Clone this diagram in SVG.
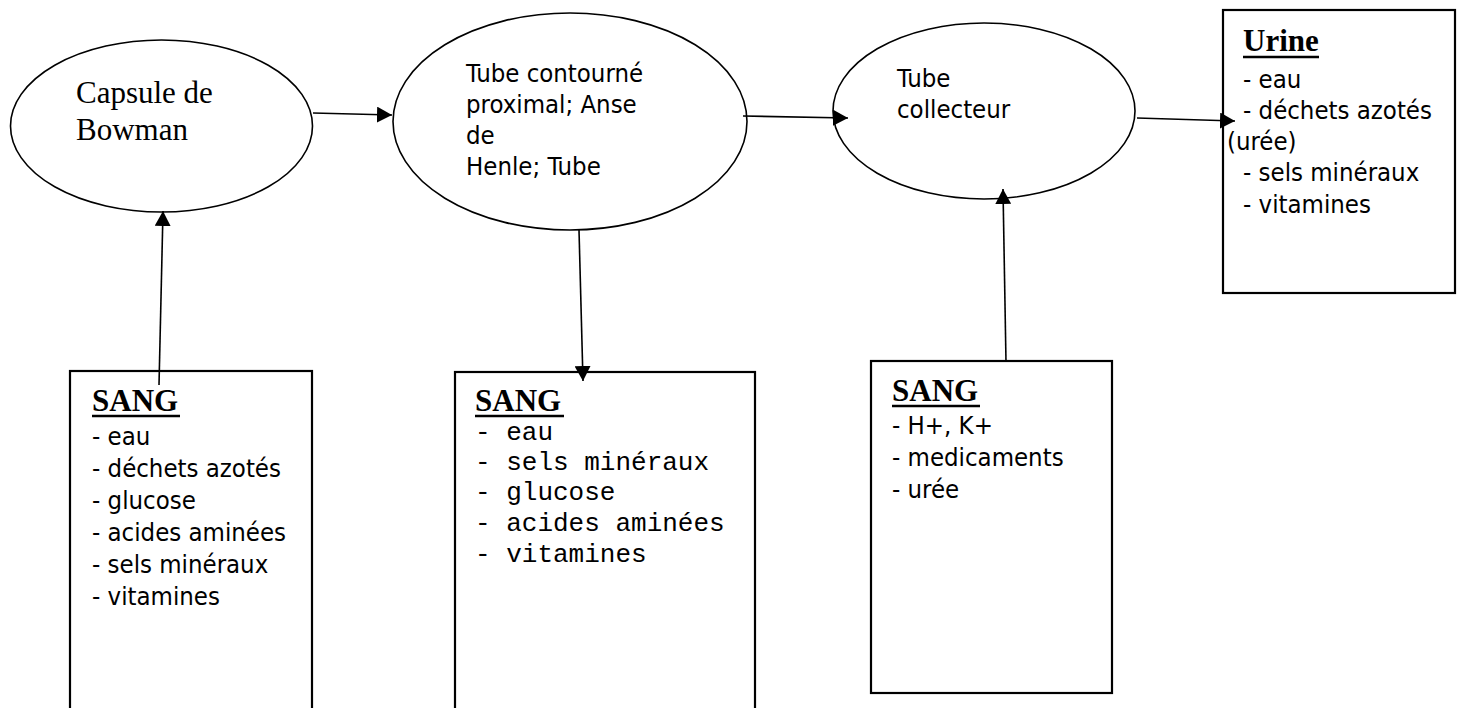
<svg xmlns="http://www.w3.org/2000/svg" width="1457" height="708" viewBox="0 0 1457 708">
  <style>
    .shape { fill: #ffffff; stroke: #000000; stroke-width: 1.6; }
    .box { fill: #ffffff; stroke: #000000; stroke-width: 2.2; }
    .wire { fill: none; stroke: #000000; stroke-width: 1.6; }
    .serif { font-family: "Liberation Serif", "Times New Roman", serif; font-size: 31px; fill: #000; }
    .head { font-family: "Liberation Serif", "Times New Roman", serif; font-size: 31px; font-weight: bold; fill: #000; }
    .sans { font-family: "DejaVu Sans Condensed", "DejaVu Sans", sans-serif; font-stretch: condensed; font-size: 25.5px; fill: #000; }
    .mono { font-family: "Liberation Mono", "Courier New", monospace; font-size: 26px; fill: #000; }
    .uline { stroke: #000; stroke-width: 2.5; }
  </style>
  <defs>
    <marker id="arrow" markerWidth="15" markerHeight="16" refX="15" refY="8" orient="auto" markerUnits="userSpaceOnUse">
      <path d="M0,0 L15,8 L0,16 Z" fill="#000"/>
    </marker>
  </defs>

  <rect width="1457" height="708" fill="#ffffff"/>

  <!-- Stage 1: Bowman's capsule -->
  <g id="capsule">
    <ellipse class="shape" cx="161.5" cy="126" rx="151" ry="86"/>
    <text class="serif" x="76" y="103">Capsule de</text>
    <text class="serif" x="76" y="140">Bowman</text>
  </g>

  <!-- Stage 2: tubules and loop of Henle -->
  <g id="tubules">
    <ellipse class="shape" cx="570" cy="121.5" rx="177" ry="108.5"/>
    <text class="sans" x="466" y="82">Tube contourné</text>
    <text class="sans" x="466" y="113">proximal; Anse</text>
    <text class="sans" x="466" y="144">de</text>
    <text class="sans" x="466" y="175">Henle; Tube</text>
  </g>

  <!-- Stage 3: collecting duct -->
  <g id="collecteur">
    <ellipse class="shape" cx="984" cy="111" rx="151" ry="88"/>
    <text class="sans" x="897" y="87">Tube</text>
    <text class="sans" x="897" y="118">collecteur</text>
  </g>

  <!-- Final product -->
  <g id="urine">
    <rect class="box" x="1223" y="10" width="232" height="283"/>
    <text class="head" x="1243" y="51">Urine</text>
    <line class="uline" x1="1243" y1="57" x2="1319" y2="57"/>
    <text class="sans" x="1243" y="88">- eau</text>
    <text class="sans" x="1243" y="119">- déchets azotés</text>
    <text class="sans" x="1227" y="150">(urée)</text>
    <text class="sans" x="1243" y="181">- sels minéraux</text>
    <text class="sans" x="1243" y="213">- vitamines</text>
  </g>

  <!-- Blood: filtered -->
  <g id="sang-filtration">
    <rect class="box" x="70" y="371" width="242" height="345"/>
    <text class="head" x="92" y="411">SANG</text>
    <line class="uline" x1="92" y1="416" x2="180" y2="416"/>
    <text class="sans" x="92" y="445">- eau</text>
    <text class="sans" x="92" y="477">- déchets azotés</text>
    <text class="sans" x="92" y="509">- glucose</text>
    <text class="sans" x="92" y="541">- acides aminées</text>
    <text class="sans" x="92" y="573">- sels minéraux</text>
    <text class="sans" x="92" y="605">- vitamines</text>
  </g>

  <!-- Blood: reabsorbed -->
  <g id="sang-reabsorption">
    <rect class="box" x="455" y="372" width="300" height="345"/>
    <text class="head" x="475" y="411">SANG</text>
    <line class="uline" x1="475" y1="416" x2="564" y2="416"/>
    <text class="mono" x="475" y="440">- eau</text>
    <text class="mono" x="475" y="470">- sels minéraux</text>
    <text class="mono" x="475" y="500">- glucose</text>
    <text class="mono" x="475" y="531">- acides aminées</text>
    <text class="mono" x="475" y="562">- vitamines</text>
  </g>

  <!-- Blood: secreted -->
  <g id="sang-secretion">
    <rect class="box" x="871" y="361" width="241" height="332"/>
    <text class="head" x="892" y="401">SANG</text>
    <line class="uline" x1="892" y1="406" x2="980" y2="406"/>
    <text class="sans" x="892" y="434">- H+, K+</text>
    <text class="sans" x="892" y="466">- medicaments</text>
    <text class="sans" x="892" y="498">- urée</text>
  </g>

  <!-- Connectors -->
  <g id="connectors" class="wire">
    <line x1="313" y1="113" x2="392" y2="115" marker-end="url(#arrow)"/>
    <line x1="743" y1="116" x2="848" y2="118" marker-end="url(#arrow)"/>
    <line x1="1137" y1="118" x2="1235" y2="121" marker-end="url(#arrow)"/>
    <line x1="159" y1="385" x2="163" y2="211" marker-end="url(#arrow)"/>
    <line x1="579" y1="230" x2="583" y2="381" marker-end="url(#arrow)"/>
    <line x1="1006" y1="362" x2="1003" y2="189" marker-end="url(#arrow)"/>
  </g>
</svg>
